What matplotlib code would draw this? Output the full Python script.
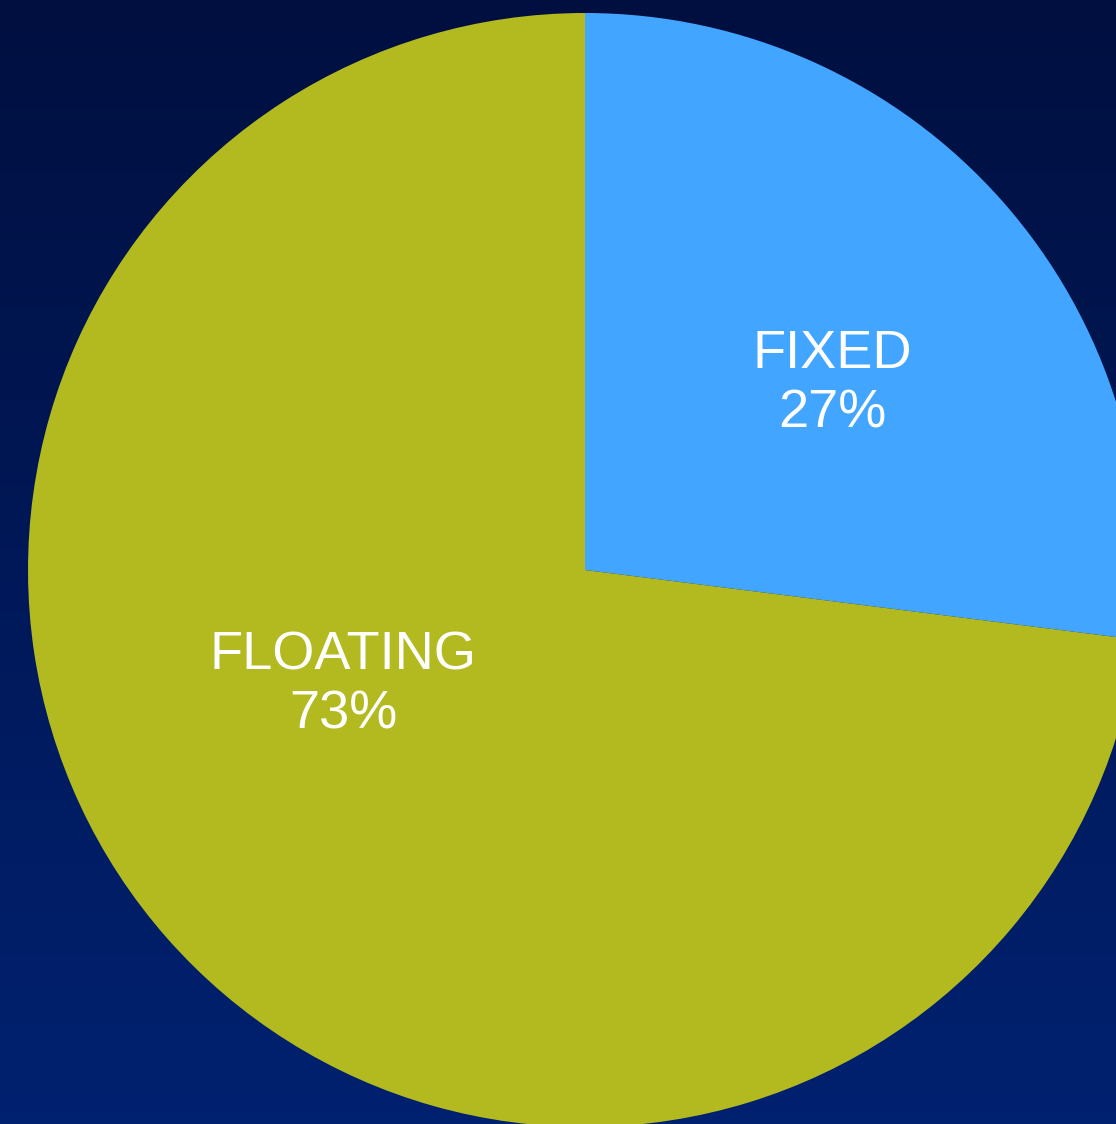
import numpy as np
import matplotlib
matplotlib.use("Agg")
import matplotlib.pyplot as plt

# Share of rate types
categories = ["FIXED", "FLOATING"]
shares = [27, 73]
colors = ["#42A5FF", "#B3BA1F"]

W, H = 1116, 1124
fig = plt.figure(figsize=(W / 100, H / 100), dpi=100)
ax = fig.add_axes([0, 0, 1, 1])

# Navy background, darker at the top and lighter toward the bottom
t = np.linspace(0, 1, 256)[:, None]
top = np.array([0.0, 0.06, 0.25])
bottom = np.array([0.0, 0.13, 0.44])
grad = top + (bottom - top) * t
bg = np.repeat(grad[:, None, :], 4, axis=1).reshape(256, 4, 3)
ax.imshow(bg, extent=[0, W, 0, H], origin="upper", aspect="auto", zorder=0,
          interpolation="bilinear")

cx, cy, r = 585, H - 570, 557
ax.pie(shares, colors=colors, startangle=90, counterclock=False,
       center=(cx, cy), radius=r, frame=True,
       wedgeprops=dict(linewidth=0, zorder=1))

label_pos = {"FIXED": (832, H - 384), "FLOATING": (343, H - 685)}
for name, val in zip(categories, shares):
    x, y = label_pos[name]
    ax.text(x, y, f"{name}\n{val}%", ha="center", va="center", color="white",
            fontsize=39, family="Liberation Sans", linespacing=1.25, zorder=3)

ax.set_xlim(0, W)
ax.set_ylim(0, H)
ax.set_aspect("auto")
ax.axis("off")

fig.savefig("out.png", dpi=100)
